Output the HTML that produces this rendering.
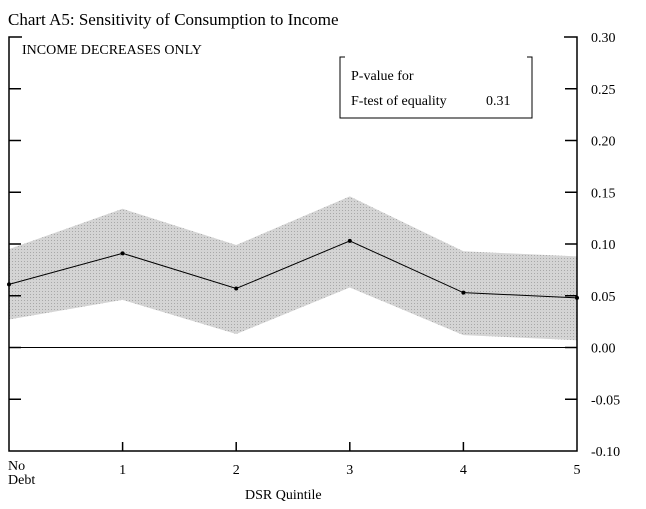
<!DOCTYPE html>
<html><head><meta charset="utf-8"><style>
body{margin:0;background:#fff;}
svg{display:block;font-family:"Liberation Serif",serif;}
</style></head><body>
<svg id="chart" width="646" height="509" xmlns="http://www.w3.org/2000/svg">
<defs>
<pattern id="dots" width="3" height="3" patternUnits="userSpaceOnUse">
<rect width="3" height="3" fill="#d4d4d4"/><rect width="1" height="1" fill="#a8a8a8"/>
</pattern>
</defs>
<text x="8" y="25" font-size="17">Chart A5: Sensitivity of Consumption to Income</text>
<g id="plot"></g>
<text x="22" y="54" font-size="14">INCOME DECREASES ONLY</text>
<g>
<path d="M345,57 H340 V118 H532 V57 H527" fill="none" stroke="#000" stroke-width="1"/>
<text x="351" y="80" font-size="14">P-value for</text>
<text x="351" y="105" font-size="14">F-test of equality</text>
<text x="486" y="105" font-size="14">0.31</text>
</g>
<text x="245" y="499" font-size="14">DSR Quintile</text>
</svg>
<script>
const categories = ["No Debt","1","2","3","4","5"];
const estimate = [0.061,0.091,0.057,0.103,0.053,0.048];
const upper = [0.095,0.134,0.099,0.146,0.093,0.088];
const lower = [0.027,0.046,0.013,0.058,0.012,0.007];
const yTicks = [0.30,0.25,0.20,0.15,0.10,0.05,0.00,-0.05,-0.10];
const yTickLabels = ["0.30","0.25","0.20","0.15","0.10","0.05","0.00","-0.05","-0.10"];

const NS="http://www.w3.org/2000/svg";
const L=9,R=577,T=37,B=451,yMax=0.30,yMin=-0.10;
const xs=i=>L+(R-L)*i/(categories.length-1);
const ys=v=>T+(yMax-v)/(yMax-yMin)*(B-T);
const g=document.getElementById('plot');
function mk(tag,attrs){const e=document.createElementNS(NS,tag);for(const k in attrs)e.setAttribute(k,attrs[k]);g.appendChild(e);return e;}

let d="M"+upper.map((v,i)=>xs(i)+","+ys(v)).join(" L")+" L"+lower.map((v,i)=>[xs(i),ys(v)]).reverse().map(p=>p.join(",")).join(" L")+" Z";
const band=mk('path',{d:d,fill:"url(#dots)",stroke:"none"});



const z=mk('line',{x1:L,x2:R,y1:ys(0),y2:ys(0),stroke:"#000","stroke-width":1});



const ax=mk('path',{d:`M${L+13},${T} H${L} V${B} H${R} V${T} H${R-13}`,fill:"none",stroke:"#000","stroke-width":1.5});



yTicks.forEach((v,i)=>{
  const y=ys(v);
  if(i>0&&i<yTicks.length-1){
    const t1=mk('line',{x1:L,x2:L+12,y1:y,y2:y,stroke:"#000","stroke-width":1.5});
    
    
    const t2=mk('line',{x1:R-12,x2:R,y1:y,y2:y,stroke:"#000","stroke-width":1.5});
    
    
  }
  const tx=mk('text',{x:591,y:y+5,"font-size":14});
  tx.textContent=yTickLabels[i];
  
  
});

categories.forEach((c,i)=>{
  const x=xs(i);
  if(i>0&&i<categories.length-1){
    const t=mk('line',{x1:x,x2:x,y1:B-9,y2:B,stroke:"#000","stroke-width":1.5});
    
    
  }
  if(i===0){
    const a=mk('text',{x:8,y:470,"font-size":14});a.textContent="No";
    
    
    const b=mk('text',{x:8,y:484,"font-size":14});b.textContent="Debt";
    
    
  } else {
    const t=mk('text',{x:x,y:474,"font-size":14,"text-anchor":"middle"});t.textContent=c;
    
    
  }
});

const line=mk('polyline',{points:estimate.map((v,i)=>xs(i)+","+ys(v)).join(" "),fill:"none",stroke:"#000","stroke-width":1});


estimate.forEach((v,i)=>{
  const c=mk('circle',{cx:xs(i),cy:ys(v),r:2,fill:"#000"});
  
  
});
</script>
</body></html>
